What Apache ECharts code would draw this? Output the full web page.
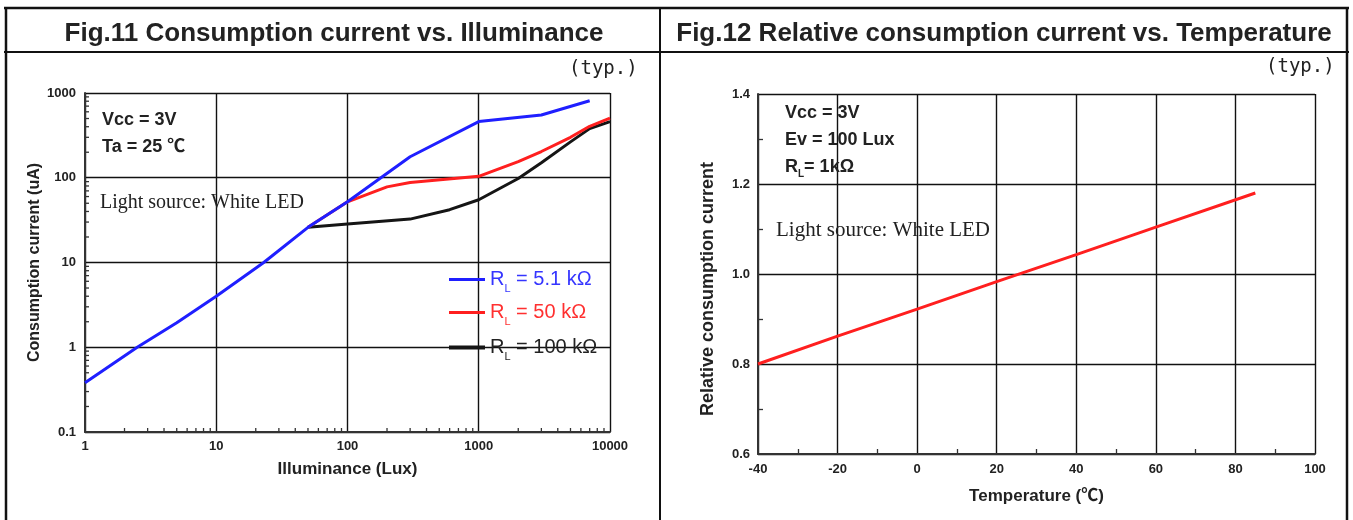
<!DOCTYPE html>
<html>
<head>
<meta charset="utf-8">
<script src="https://cdn.jsdelivr.net/npm/echarts@6.0.0/dist/echarts.min.js"></script>
<style>
html,body{margin:0;padding:0;background:#fff;}
#c{width:1353px;height:520px;}
</style>
</head>
<body>
<div id="c"></div>
<script>
// ---------- Fig.11 : Consumption current vs. Illuminance ----------
const luxBlue  = [1, 2.5, 5, 10, 23, 50, 100, 300, 1000, 3000, 7000];
const curBlue  = [0.38, 1.0, 1.95, 4.0, 10, 26, 52, 177, 460, 550, 810];
const luxRed   = [50, 100, 200, 300, 1000, 2000, 3000, 5000, 7000, 10000];
const curRed   = [26, 52, 78, 88, 104, 155, 204, 300, 405, 505];
const luxBlack = [50, 100, 300, 600, 1000, 2000, 3000, 5000, 7000, 10000];
const curBlack = [26, 28.5, 32.5, 42, 55, 98, 150, 265, 380, 460];
const legendNames = ['RL = 5.1 kΩ', 'RL = 50 kΩ', 'RL = 100 kΩ'];
const luxDecades = [1, 10, 100, 1000];
const curDecades = [0.1, 1, 10, 100];
const logMinorSteps = [2, 3, 4, 5, 6, 7, 8, 9];

// ---------- Fig.12 : Relative consumption current vs. Temperature ----------
const tempC  = [-40, -20, 0, 20, 40, 60, 85];
const relCur = [0.80, 0.862, 0.922, 0.983, 1.043, 1.104, 1.18];

// ---------- styling ----------
const font  = "'Liberation Sans', Arial, Helvetica, 'Noto Sans CJK JP', sans-serif";
const serif = "'Liberation Serif', 'Times New Roman', serif";
const mono  = "'DejaVu Sans Mono', monospace";
const BLUE = '#1f1fff', RED = '#ff1f1f', BLACK = '#151515';
const legendColors = ['#3535ff', '#ff3030', '#222222'];

const pair = (xs, ys) => xs.map((x, i) => [x, ys[i]]);

// log minor tick positions (axis decoration)
const minorTicks = [];
luxDecades.forEach(d => logMinorSteps.forEach(m => minorTicks.push([d * m, 0.1, 0])));
curDecades.forEach(d => logMinorSteps.forEach(m => minorTicks.push([1, d * m, 1])));

const axisLine  = {show: true, onZero: false, lineStyle: {color: '#333', width: 2}};
const splitLine = {show: true, lineStyle: {color: '#111', width: 1.4}};
const axisLabel = {color: '#222', fontSize: 13, fontWeight: 'bold', fontFamily: font};
const nameStyle = {color: '#222', fontSize: 17, fontWeight: 'bold', fontFamily: font};
const minorTick = {show: true, splitNumber: 2, length: 5, lineStyle: {color: '#333', width: 1.3}};
const fmtNum = v => String(+(+v).toPrecision(6));

const chart = echarts.init(document.getElementById('c'), null, {renderer: 'canvas'});

const frame = (x1, y1, x2, y2, w) => ({type: 'line', silent: true, z: 10,
  shape: {x1, y1, x2, y2}, style: {stroke: '#111', lineWidth: w}});
const txt = (text, x, y, size, opts) => ({type: 'text', silent: true, z: 10,
  style: Object.assign({text, x, y, fontSize: size, fontFamily: font, fill: '#222',
    verticalAlign: 'middle', align: 'left'}, opts || {})});

const lineSeries = (name, xs, ys, color, z, xi) => ({
  type: 'line', name, xAxisIndex: xi, yAxisIndex: xi, data: pair(xs, ys),
  color, lineStyle: {color, width: 3}, symbol: 'none', showSymbol: false, smooth: false, z
});

const option = {
  animation: false,
  backgroundColor: '#fff',
  textStyle: {fontFamily: font},
  grid: [
    {left: 85, top: 93, width: 525, height: 339, outerBoundsMode: 'none', containLabel: false},
    {left: 758, top: 94, width: 557, height: 360, outerBoundsMode: 'none', containLabel: false}
  ],
  xAxis: [
    {gridIndex: 0, type: 'log', logBase: 10, min: 1, max: 10000,
     axisLine, axisTick: {show: false}, splitLine,
     axisLabel: Object.assign({}, axisLabel, {margin: 8, formatter: fmtNum}),
     name: 'Illuminance (Lux)', nameLocation: 'middle', nameGap: 29, nameTextStyle: nameStyle},
    {gridIndex: 1, type: 'value', min: -40, max: 100, interval: 20,
     axisLine, axisTick: {show: false, inside: true}, minorTick, minorSplitLine: {show: false}, splitLine,
     axisLabel: Object.assign({}, axisLabel, {margin: 9}),
     name: 'Temperature (℃)', nameLocation: 'middle', nameGap: 34, nameTextStyle: nameStyle}
  ],
  yAxis: [
    {gridIndex: 0, type: 'log', logBase: 10, min: 0.1, max: 1000,
     axisLine, axisTick: {show: false}, splitLine,
     axisLabel: Object.assign({}, axisLabel, {margin: 9, formatter: fmtNum}),
     name: 'Consumption current (uA)', nameLocation: 'middle', nameGap: 42,
     nameTextStyle: Object.assign({}, nameStyle, {fontSize: 16})},
    {gridIndex: 1, type: 'value', min: 0.6, max: 1.4, interval: 0.2,
     axisLine, axisTick: {show: false, inside: true}, minorTick, minorSplitLine: {show: false}, splitLine,
     axisLabel: Object.assign({}, axisLabel, {margin: 8, formatter: v => (+v).toFixed(1)}),
     name: 'Relative consumption current', nameLocation: 'middle', nameGap: 41,
     nameTextStyle: Object.assign({}, nameStyle, {fontSize: 18, padding: [0, 30, 0, 0]})}
  ],
  legend: legendNames.map((n, i) => ({
    data: [n], left: 449, top: [265, 298, 333][i], orient: 'vertical', padding: 0,
    itemWidth: 36, itemHeight: i === 2 ? 4 : 3, icon: 'rect', selectedMode: false,
    formatter: nm => '{a|R}{b|L}{a|' + nm.slice(2) + '}',
    textStyle: {rich: {
      a: {fontSize: 20, lineHeight: 28, color: legendColors[i], fontFamily: font},
      b: {fontSize: 11, lineHeight: 10, padding: [18, 0, 0, 0], color: legendColors[i], fontFamily: font}
    }}
  })),
  series: [
    {type: 'custom', name: 'minor', xAxisIndex: 0, yAxisIndex: 0, silent: true, clip: false, z: 3,
     data: minorTicks,
     renderItem: (params, api) => {
       const p = api.coord([api.value(0), api.value(1)]);
       const dir = api.value(2);
       const shape = dir === 0 ? {x1: p[0], y1: p[1], x2: p[0], y2: p[1] - 4}
                               : {x1: p[0], y1: p[1], x2: p[0] + 4, y2: p[1]};
       return {type: 'line', shape, style: {stroke: '#333', lineWidth: 1.3}};
     }},
    lineSeries(legendNames[2], luxBlack, curBlack, BLACK, 4, 0),
    lineSeries(legendNames[1], luxRed, curRed, RED, 5, 0),
    lineSeries(legendNames[0], luxBlue, curBlue, BLUE, 6, 0),
    lineSeries('Relative consumption current', tempC, relCur, RED, 5, 1)
  ],
  graphic: [
    frame(4, 8, 1349, 8, 2.5),
    frame(4, 52, 1349, 52, 2),
    frame(6, 7, 6, 520, 2.5),
    frame(660, 7, 660, 520, 2),
    frame(1347, 7, 1347, 520, 2.5),
    txt('Fig.11 Consumption current vs. Illuminance', 334, 34, 26, {fontWeight: 'bold', align: 'center'}),
    txt('Fig.12 Relative consumption current vs. Temperature', 1004, 34, 26, {fontWeight: 'bold', align: 'center'}),
    txt('(typ.)', 569, 69, 19, {fontFamily: mono}),
    txt('(typ.)', 1266, 67, 19, {fontFamily: mono}),
    txt('Vcc = 3V', 102, 120, 18, {fontWeight: 'bold'}),
    txt('Ta = 25 ℃', 102, 147, 18, {fontWeight: 'bold'}),
    txt('Light source: White LED', 100, 203, 20, {fontFamily: serif}),
    txt('Vcc = 3V', 785, 113, 18, {fontWeight: 'bold'}),
    txt('Ev = 100 Lux', 785, 140, 18, {fontWeight: 'bold'}),
    txt('{a|R}{b|L}{a|= 1kΩ}', 785, 167, 18, {rich: {
      a: {fontSize: 18, fontWeight: 'bold', lineHeight: 24, fontFamily: font, fill: '#222'},
      b: {fontSize: 10, fontWeight: 'bold', lineHeight: 10, padding: [14, 0, 0, 0], fontFamily: font, fill: '#222'}
    }}),
    txt('Light source: White LED', 776, 230, 21, {fontFamily: serif})
  ]
};
chart.setOption(option);
</script>
</body>
</html>
